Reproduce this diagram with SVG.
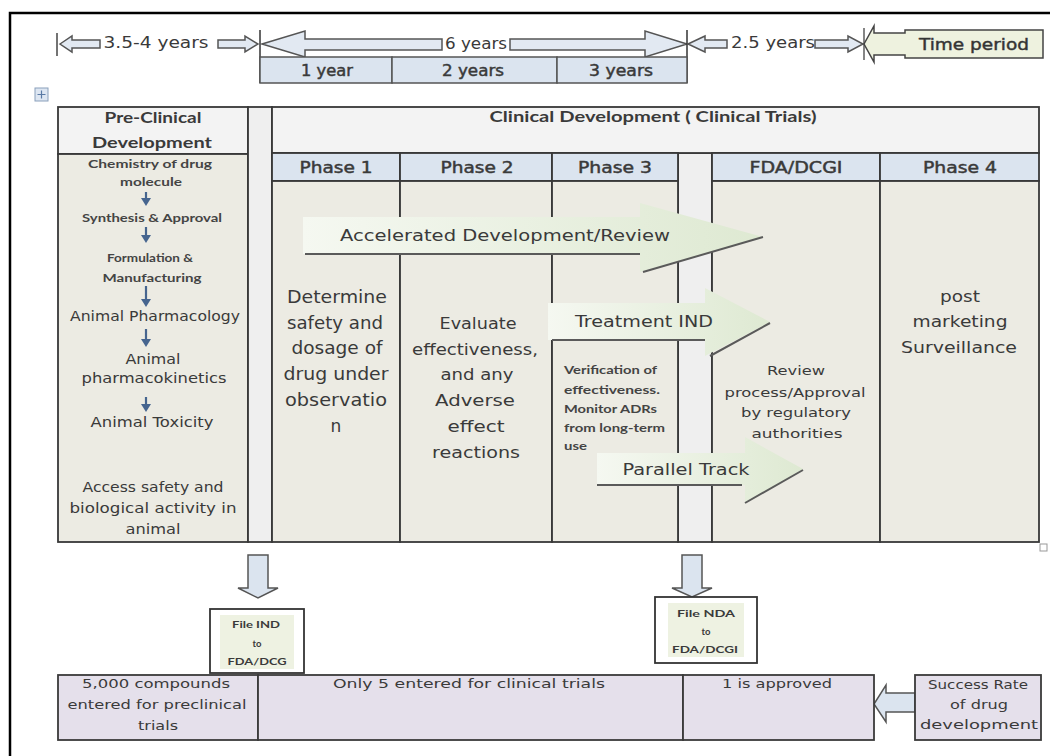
<svg xmlns="http://www.w3.org/2000/svg" width="1050" height="756" viewBox="0 0 1050 756">
<defs>
<style>
text{font-family:"DejaVu Sans","Liberation Sans",sans-serif;fill:#3a3a3a}
.m{text-anchor:middle}
.cal{font-family:Lato,"Open Sans",sans-serif}
.bd{font-weight:bold}
.ps{stroke:#3a3a3a;stroke-width:0.45}
.cell{stroke:#383838;stroke-width:1.8}
.body{fill:#ecebe3}
.hdr{fill:#f3f3f3}
.ph{fill:#dbe4ef}
.gap{fill:#efefef}
.lav{fill:#e5e0eb;stroke:#3a3a3a;stroke-width:1.8}
.blk{fill:#e2e9f2;stroke:#555;stroke-width:1.5}
.blue{fill:#dbe4ef;stroke:#555;stroke-width:1.5}
.shadow{fill:none;stroke:#5a5a5a;stroke-width:2}
.grn{fill:url(#g)}
.sm{stroke:#46658f;stroke-width:2.2}
.smh{fill:#46658f}
</style>
<linearGradient id="g" x1="0" y1="0" x2="1" y2="0"><stop offset="0" stop-color="#f5f8f1"/><stop offset="1" stop-color="#dee9d2"/></linearGradient>
</defs>

<path d="M10,756 V13 H1050" fill="none" stroke="#000" stroke-width="2.5"/>

<g id="timeline">
<line x1="57" y1="33" x2="57" y2="56" stroke="#444" stroke-width="1.5"/>
<polygon class="blk" points="60,44 72,36 72,40 100,40 100,48 72,48 72,52"/>
<text x="156" y="48" font-size="16" class="m" textLength="105" lengthAdjust="spacingAndGlyphs">3.5-4 years</text>
<polygon class="blk" points="218,40 245,40 245,36 258,44 245,52 245,48 218,48"/>
<line x1="260" y1="30" x2="260" y2="83" stroke="#333" stroke-width="1.5"/>
<polygon class="blk" points="262,44 305,31 305,39 442,39 442,50 305,50 305,57"/>
<text x="476" y="49" font-size="16" class="m" textLength="62" lengthAdjust="spacingAndGlyphs">6 years</text>
<polygon class="blk" points="510,39 645,39 645,31 687,44 645,57 645,50 510,50"/>
<line x1="687" y1="30" x2="687" y2="83" stroke="#333" stroke-width="1.5"/>
<polygon class="blk" points="688,44 705,36 705,40 727,40 727,48 705,48 705,52"/>
<text x="773" y="48" font-size="16" class="m" textLength="84" lengthAdjust="spacingAndGlyphs">2.5 years</text>
<polygon class="blk" points="815,40 848,40 848,36 863,44 848,52 848,48 815,48"/>
<rect x="260" y="57" width="132" height="26" class="blue"/>
<rect x="392" y="57" width="165" height="26" class="blue"/>
<rect x="557" y="57" width="130" height="26" class="blue"/>
<text x="327" y="76" font-size="15" class="m ps" textLength="52" lengthAdjust="spacingAndGlyphs">1 year</text>
<text x="473" y="76" font-size="15" class="m ps" textLength="62" lengthAdjust="spacingAndGlyphs">2 years</text>
<text x="621" y="76" font-size="15" class="m ps" textLength="64" lengthAdjust="spacingAndGlyphs">3 years</text>
</g>

<g id="time-period">
<path d="M864,44 L874,26 L874,33 L905,33 L905,30 L1043,30 L1043,58 L905,58 L905,55 L874,55 L874,62 Z" fill="#eef2df" stroke="#444" stroke-width="1.5"/>
<line x1="864" y1="28" x2="864" y2="60" stroke="#444" stroke-width="1.3"/>
<text x="974" y="50" font-size="16" class="m ps" textLength="110" lengthAdjust="spacingAndGlyphs" style="fill:#333">Time period</text>
</g>

<g id="table-handle">
<rect x="35" y="88" width="13" height="13" fill="#dde6f2" stroke="#8aa0bb" stroke-width="1"/>
<path d="M41.5,90.5 V98.5 M37.5,94.5 H45.5" stroke="#5a7aa5" stroke-width="1.2"/>
</g>

<g id="preclinical">
<rect x="58" y="107" width="190" height="47" class="hdr cell"/>
<rect x="58" y="154" width="190" height="388" class="body cell"/>
<text x="153" y="123" font-size="16" class="m cal bd" textLength="97" lengthAdjust="spacingAndGlyphs">Pre-Clinical</text>
<text x="152" y="148" font-size="16" class="m cal bd" textLength="120" lengthAdjust="spacingAndGlyphs">Development</text>
<text x="150" y="168" font-size="11" class="m cal bd" textLength="124" lengthAdjust="spacingAndGlyphs" style="fill:#444">Chemistry of drug</text>
<text x="151" y="186" font-size="11" class="m cal bd" textLength="62" lengthAdjust="spacingAndGlyphs" style="fill:#444">molecule</text>
<text x="152" y="222" font-size="11" class="m cal bd" textLength="140" lengthAdjust="spacingAndGlyphs" style="fill:#444">Synthesis &amp; Approval</text>
<text x="150" y="262" font-size="11" class="m cal bd" textLength="86" lengthAdjust="spacingAndGlyphs" style="fill:#444">Formulation &amp;</text>
<text x="152" y="282" font-size="11" class="m cal bd" textLength="99" lengthAdjust="spacingAndGlyphs" style="fill:#444">Manufacturing</text>
<text x="155" y="321" font-size="13.5" class="m" textLength="170" lengthAdjust="spacingAndGlyphs">Animal Pharmacology</text>
<text x="153" y="364" font-size="13.5" class="m" textLength="55" lengthAdjust="spacingAndGlyphs">Animal</text>
<text x="154" y="383" font-size="13.5" class="m" textLength="145" lengthAdjust="spacingAndGlyphs">pharmacokinetics</text>
<text x="152" y="427" font-size="13.5" class="m" textLength="123" lengthAdjust="spacingAndGlyphs">Animal Toxicity</text>
<text x="153" y="492" font-size="13.5" class="m" textLength="141" lengthAdjust="spacingAndGlyphs">Access safety and</text>
<text x="153" y="513" font-size="13.5" class="m" textLength="167" lengthAdjust="spacingAndGlyphs">biological activity in</text>
<text x="153" y="534" font-size="13.5" class="m" textLength="55" lengthAdjust="spacingAndGlyphs">animal</text>
</g>

<g id="gap-columns">
<rect x="248" y="107" width="24" height="435" class="gap cell"/>
<rect x="678" y="153" width="34" height="389" class="gap cell"/>
</g>

<g id="clinical-header">
<rect x="272" y="107" width="767" height="46" class="hdr cell"/>
<text x="653" y="122" font-size="15" class="m cal bd" textLength="327" lengthAdjust="spacingAndGlyphs">Clinical Development ( Clinical Trials)</text>
</g>

<g id="phase1">
<rect x="272" y="153" width="128" height="28" class="ph cell"/>
<rect x="272" y="181" width="128" height="361" class="body cell"/>
<text x="336" y="173" font-size="15" class="m ps" textLength="73" lengthAdjust="spacingAndGlyphs">Phase 1</text>
<text x="337" y="303" font-size="17" class="m" textLength="100" lengthAdjust="spacingAndGlyphs">Determine</text>
<text x="335" y="329" font-size="17" class="m" textLength="96" lengthAdjust="spacingAndGlyphs">safety and</text>
<text x="337" y="354" font-size="17" class="m" textLength="91" lengthAdjust="spacingAndGlyphs">dosage of</text>
<text x="336" y="380" font-size="17" class="m" textLength="105" lengthAdjust="spacingAndGlyphs">drug under</text>
<text x="336" y="406" font-size="17" class="m" textLength="102" lengthAdjust="spacingAndGlyphs">observatio</text>
<text x="336" y="432" font-size="17" class="m">n</text>
</g>

<g id="phase2">
<rect x="400" y="153" width="152" height="28" class="ph cell"/>
<rect x="400" y="181" width="152" height="361" class="body cell"/>
<text x="477" y="173" font-size="15" class="m ps" textLength="73" lengthAdjust="spacingAndGlyphs">Phase 2</text>
<text x="478" y="329" font-size="16.5" class="m" textLength="77" lengthAdjust="spacingAndGlyphs">Evaluate</text>
<text x="475" y="355" font-size="16.5" class="m" textLength="126" lengthAdjust="spacingAndGlyphs">effectiveness,</text>
<text x="477" y="380" font-size="16.5" class="m" textLength="73" lengthAdjust="spacingAndGlyphs">and any</text>
<text x="475" y="406" font-size="16.5" class="m" textLength="80" lengthAdjust="spacingAndGlyphs">Adverse</text>
<text x="476" y="432" font-size="16.5" class="m" textLength="57" lengthAdjust="spacingAndGlyphs">effect</text>
<text x="476" y="458" font-size="16.5" class="m" textLength="88" lengthAdjust="spacingAndGlyphs">reactions</text>
</g>

<g id="phase3">
<rect x="552" y="153" width="126" height="28" class="ph cell"/>
<rect x="552" y="181" width="126" height="361" class="body cell"/>
<text x="615" y="173" font-size="15" class="m ps" textLength="74" lengthAdjust="spacingAndGlyphs">Phase 3</text>
<text x="564" y="374" font-size="10.5" class="cal bd" textLength="93" lengthAdjust="spacingAndGlyphs" style="fill:#444">Verification of</text>
<text x="564" y="394" font-size="10.5" class="cal bd" textLength="96" lengthAdjust="spacingAndGlyphs" style="fill:#444">effectiveness.</text>
<text x="564" y="413" font-size="10.5" class="cal bd" textLength="93" lengthAdjust="spacingAndGlyphs" style="fill:#444">Monitor ADRs</text>
<text x="564" y="432" font-size="10.5" class="cal bd" textLength="101" lengthAdjust="spacingAndGlyphs" style="fill:#444">from long-term</text>
<text x="564" y="450" font-size="10.5" class="cal bd" textLength="23" lengthAdjust="spacingAndGlyphs" style="fill:#444">use</text>
</g>

<g id="fda-dcgi">
<rect x="712" y="153" width="168" height="28" class="ph cell"/>
<rect x="712" y="181" width="168" height="361" class="body cell"/>
<text x="796" y="173" font-size="15" class="m ps" textLength="93" lengthAdjust="spacingAndGlyphs">FDA/DCGI</text>
<text x="796" y="375" font-size="12.5" class="m" textLength="58" lengthAdjust="spacingAndGlyphs">Review</text>
<text x="795" y="397" font-size="12.5" class="m" textLength="141" lengthAdjust="spacingAndGlyphs">process/Approval</text>
<text x="796" y="417" font-size="12.5" class="m" textLength="110" lengthAdjust="spacingAndGlyphs">by regulatory</text>
<text x="797" y="438" font-size="12.5" class="m" textLength="91" lengthAdjust="spacingAndGlyphs">authorities</text>
</g>

<g id="phase4">
<rect x="880" y="153" width="159" height="28" class="ph cell"/>
<rect x="880" y="181" width="159" height="361" class="body cell"/>
<text x="960" y="173" font-size="15" class="m ps" textLength="74" lengthAdjust="spacingAndGlyphs">Phase 4</text>
<text x="960" y="302" font-size="15.5" class="m" textLength="40" lengthAdjust="spacingAndGlyphs">post</text>
<text x="960" y="327" font-size="15.5" class="m" textLength="95" lengthAdjust="spacingAndGlyphs">marketing</text>
<text x="959" y="353" font-size="15.5" class="m" textLength="116" lengthAdjust="spacingAndGlyphs">Surveillance</text>
</g>
<rect x="1040" y="544" width="7" height="7" fill="#fff" stroke="#999" stroke-width="1"/>

<g id="accelerated">
<polygon class="grn" points="303,217 640,217 640,203 763,237 640,272 640,254 303,254"/>
<path class="shadow" d="M305,254 H640 M643,272 L763,237"/>
<text x="505" y="241" font-size="16" class="m" textLength="330" lengthAdjust="spacingAndGlyphs">Accelerated Development/Review</text>
</g>

<g id="treatment-ind">
<polygon class="grn" points="548,303 705,303 705,288 770,322 705,356 705,340 548,340"/>
<path class="shadow" d="M552,340 H705 M710,356 L770,323"/>
<text x="644" y="327" font-size="16" class="m" textLength="138" lengthAdjust="spacingAndGlyphs">Treatment IND</text>
</g>

<g id="parallel-track">
<polygon class="grn" points="597,453 745,453 745,437 803,469 745,503 745,485 597,485"/>
<path class="shadow" d="M597,485 H742 M745,503 L803,470"/>
<text x="686" y="475" font-size="16" class="m" textLength="127" lengthAdjust="spacingAndGlyphs">Parallel Track</text>
</g>

<g id="connectors">
<line x1="146" y1="192" x2="146" y2="199" class="sm"/><polygon class="smh" points="141,198 151,198 146,206"/>
<line x1="146" y1="227" x2="146" y2="236" class="sm"/><polygon class="smh" points="141,235 151,235 146,243"/>
<line x1="146" y1="286" x2="146" y2="300" class="sm"/><polygon class="smh" points="141,299 151,299 146,307"/>
<line x1="146" y1="329" x2="146" y2="340" class="sm"/><polygon class="smh" points="141,339 151,339 146,347"/>
<line x1="146" y1="397" x2="146" y2="405" class="sm"/><polygon class="smh" points="141,404 151,404 146,412"/>
<polygon class="blue" points="248,555 268,555 268,588 278,588 258,598 238,588 248,588"/>
<polygon class="blue" points="682,555 702,555 702,588 712,588 692,597 672,588 682,588"/>
<polygon class="blue" points="915,693 886,693 886,685 874,704 886,722 886,712 915,712"/>
</g>

<g id="file-ind">
<rect x="210" y="609" width="94" height="64" fill="#fff" stroke="#333" stroke-width="1.8"/>
<rect x="220" y="615" width="74" height="54" fill="#eef2e2"/>
<text x="256" y="628" font-size="9.5" class="m cal bd" textLength="48" lengthAdjust="spacingAndGlyphs">File IND</text>
<text x="257" y="647" font-size="9.5" class="m cal bd">to</text>
<text x="257" y="665" font-size="9.5" class="m cal bd" textLength="59" lengthAdjust="spacingAndGlyphs">FDA/DCG</text>
</g>

<g id="file-nda">
<rect x="655" y="597" width="102" height="66" fill="#fff" stroke="#333" stroke-width="1.8"/>
<rect x="668" y="603" width="76" height="54" fill="#eef2e2"/>
<text x="706" y="617" font-size="9.5" class="m cal bd" textLength="58" lengthAdjust="spacingAndGlyphs">File NDA</text>
<text x="706" y="635" font-size="9.5" class="m cal bd">to</text>
<text x="705" y="653" font-size="9.5" class="m cal bd" textLength="66" lengthAdjust="spacingAndGlyphs">FDA/DCGI</text>
</g>

<g id="success-rate-row">
<rect x="58" y="675" width="200" height="65" class="lav"/>
<rect x="258" y="675" width="425" height="65" class="lav"/>
<rect x="683" y="675" width="191" height="65" class="lav"/>
<text x="156" y="688" font-size="13" class="m" textLength="148" lengthAdjust="spacingAndGlyphs">5,000 compounds</text>
<text x="157" y="709" font-size="13" class="m" textLength="179" lengthAdjust="spacingAndGlyphs">entered for preclinical</text>
<text x="158" y="730" font-size="13" class="m" textLength="40" lengthAdjust="spacingAndGlyphs">trials</text>
<text x="469" y="688" font-size="13" class="m" textLength="272" lengthAdjust="spacingAndGlyphs">Only 5 entered for clinical trials</text>
<text x="777" y="688" font-size="13" class="m" textLength="110" lengthAdjust="spacingAndGlyphs">1 is approved</text>
</g>

<g id="success-rate">
<rect x="915" y="675" width="126" height="65" class="lav"/>
<text x="978" y="689" font-size="13" class="m" textLength="100" lengthAdjust="spacingAndGlyphs">Success Rate</text>
<text x="979" y="709" font-size="13" class="m" textLength="58" lengthAdjust="spacingAndGlyphs">of drug</text>
<text x="979" y="729" font-size="13" class="m" textLength="118" lengthAdjust="spacingAndGlyphs">development</text>
</g>
</svg>
